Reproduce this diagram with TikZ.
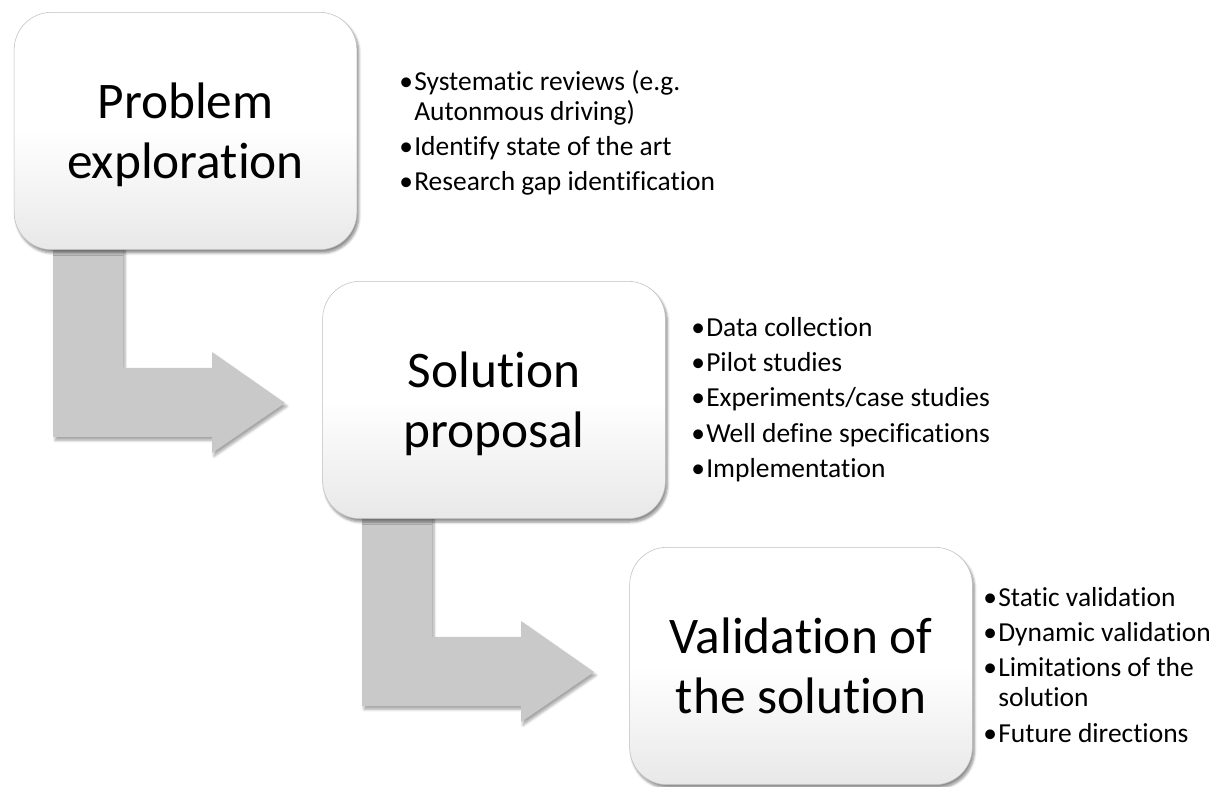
\documentclass[tikz,border=0pt]{standalone}
\usepackage{fontspec}
\setmainfont[Ligatures=NoCommon]{Carlito}
\usetikzlibrary{shadows.blur}
\tikzset{
  stagebox/.style={rectangle, rounded corners=28pt, draw=black!25, line width=0.4pt,
    top color=white, bottom color=black!9, middle color=white,
    minimum width=257pt, minimum height=178pt, align=center,
    text depth=0pt,
    font=\fontsize{38.5}{45}\selectfont,
    blur shadow={shadow xshift=1.5pt, shadow yshift=-2.5pt, shadow blur steps=6, shadow opacity=45}},
  bentarrow/.style={fill=black!21, draw=none,
    blur shadow={shadow xshift=1.5pt, shadow yshift=-2.5pt, shadow blur steps=5, shadow opacity=35}},
  bullets/.style={anchor=north west, align=left, inner sep=0pt,
    font=\fontsize{20.6}{22.5}\selectfont}
}
\newcommand{\blt}{\textbullet}
\begin{document}
\begin{tikzpicture}[x=0.75pt,y=-0.75pt]
\useasboundingbox (0,0) rectangle (1218,787);
% arrows (behind boxes)
\path[bentarrow] (53,240) -- (123,240) -- (123,368) -- (212,368) -- (212,352) -- (285,403) -- (212,453) -- (212,437) -- (53,437) -- cycle;
\path[bentarrow] (362,509) -- (432,509) -- (432,637) -- (521,637) -- (521,621) -- (594,672) -- (521,722) -- (521,706) -- (362,706) -- cycle;
% boxes
\node[stagebox] (pe) at (185.5,131) {Problem\\exploration};
\node[stagebox] (sp) at (494,400) {Solution\\proposal};
\node[stagebox] (vs) at (801,666) {Validation of\\the solution};
% bullet lists
\node[bullets] (l1) at (399,69) {\begin{tabular}{@{}l@{\hspace{1pt}}l@{}}
\blt & Systematic reviews (e.g.\\
 & Autonmous driving)\\[4pt]
\blt & Identify state of the art\\[4pt]
\blt & Research gap identification
\end{tabular}};
\node[bullets] (l2) at (691,315) {\begin{tabular}{@{}l@{\hspace{1pt}}l@{}}
\blt & Data collection\\[4pt]
\blt & Pilot studies\\[4pt]
\blt & Experiments/case studies\\[4pt]
\blt & Well define specifications\\[4pt]
\blt & Implementation
\end{tabular}};
\node[bullets] (l3) at (983,585) {\begin{tabular}{@{}l@{\hspace{1pt}}l@{}}
\blt & Static validation\\[4pt]
\blt & Dynamic validation\\[4pt]
\blt & Limitations of the\\
 & solution\\[4pt]
\blt & Future directions
\end{tabular}};
\end{tikzpicture}
\end{document}
